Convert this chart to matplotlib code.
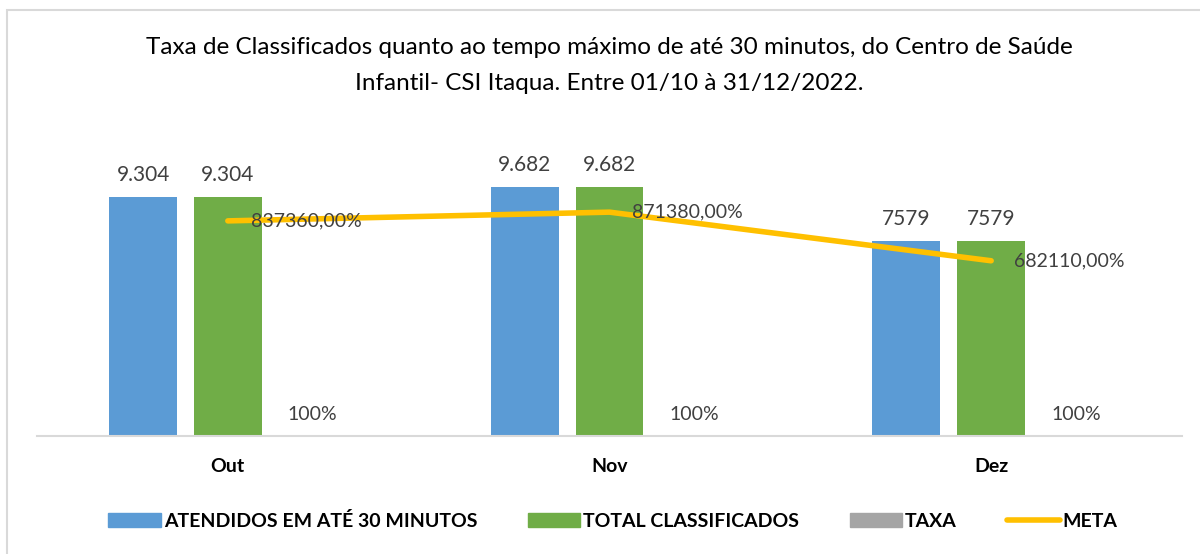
import matplotlib.pyplot as plt
import numpy as np
from matplotlib.patches import Patch, Rectangle
from matplotlib.lines import Line2D

plt.rcParams['font.family'] = ['Lato', 'DejaVu Sans']

# Data
meses = ["Out", "Nov", "Dez"]
atendidos = [9304, 9682, 7579]
total = [9304, 9682, 7579]
taxa = [1, 1, 1]
meta = [8373.6, 8713.8, 6821.1]
rot_atendidos = ["9.304", "9.682", "7579"]
rot_total = ["9.304", "9.682", "7579"]
rot_meta = ["837360,00%", "871380,00%", "682110,00%"]
rot_taxa = ["100%", "100%", "100%"]

azul = "#5b9bd5"
verde = "#70ad47"
cinza = "#a5a5a5"
amarelo = "#ffc000"
texto = "#404040"

fig = plt.figure(figsize=(12, 5.54), dpi=100)
ax = fig.add_axes([37 / 1200, 1 - 436 / 554, (1182 - 37) / 1200, 320 / 554])

x = np.arange(len(meses))
w = 0.178
step = 0.222

ax.bar(x - step, atendidos, w, color=azul)
ax.bar(x, total, w, color=verde)
ax.bar(x + step, taxa, w, color=cinza)
ax.plot(x, meta, color=amarelo, lw=4, solid_capstyle="round", zorder=3)

for i in range(len(meses)):
    ax.text(x[i] - step, atendidos[i] + 480, rot_atendidos[i], ha="center", va="bottom",
            fontsize=15, color=texto)
    ax.text(x[i], total[i] + 480, rot_total[i], ha="center", va="bottom",
            fontsize=15, color=texto)
    ax.text(x[i] + step, taxa[i] + 500, rot_taxa[i], ha="center", va="bottom",
            fontsize=14, color=texto)
    ax.text(x[i] + 0.06, meta[i], rot_meta[i], ha="left", va="center",
            fontsize=14, color=texto, zorder=4)

ax.set_xlim(-0.5, 2.5)
ax.set_ylim(0, 320 / 0.02569)
ax.set_xticks(x)
ax.set_xticklabels(meses, fontsize=14, fontweight="bold")
ax.tick_params(axis="x", length=0, pad=16)
ax.set_yticks([])
for s in ["top", "left", "right"]:
    ax.spines[s].set_visible(False)
ax.spines["bottom"].set_color("#d9d9d9")
ax.spines["bottom"].set_linewidth(1.5)

fig.text(609 / 1200, 1 - 48 / 554,
         "Taxa de Classificados quanto ao tempo máximo de até 30 minutos, do Centro de Saúde",
         ha="center", va="center", fontsize=17.5, color="#000000")
fig.text(609 / 1200, 1 - 83 / 554, "Infantil- CSI Itaqua. Entre 01/10 à 31/12/2022.",
         ha="center", va="center", fontsize=17.5, color="#000000")

handles = [Patch(color=azul), Patch(color=verde), Patch(color=cinza),
           Line2D([0], [0], color=amarelo, lw=4, solid_capstyle="round")]
labels = ["ATENDIDOS EM ATÉ 30 MINUTOS", "TOTAL CLASSIFICADOS", "TAXA", "META"]
fig.legend(handles, labels, loc="center", bbox_to_anchor=(613 / 1200, 1 - 521 / 554),
           ncol=4, frameon=False, prop={"weight": "bold", "size": 14},
           handlelength=2.7, handleheight=0.75, handletextpad=0.15, columnspacing=2.6)

# chart border
fig.patches.append(Rectangle((7 / 1200, -0.1), 1.2, 1.1 - 10 / 554, transform=fig.transFigure,
                             fill=False, edgecolor="#d9d9d9", lw=1.5))

fig.savefig("out.png", dpi=100)
